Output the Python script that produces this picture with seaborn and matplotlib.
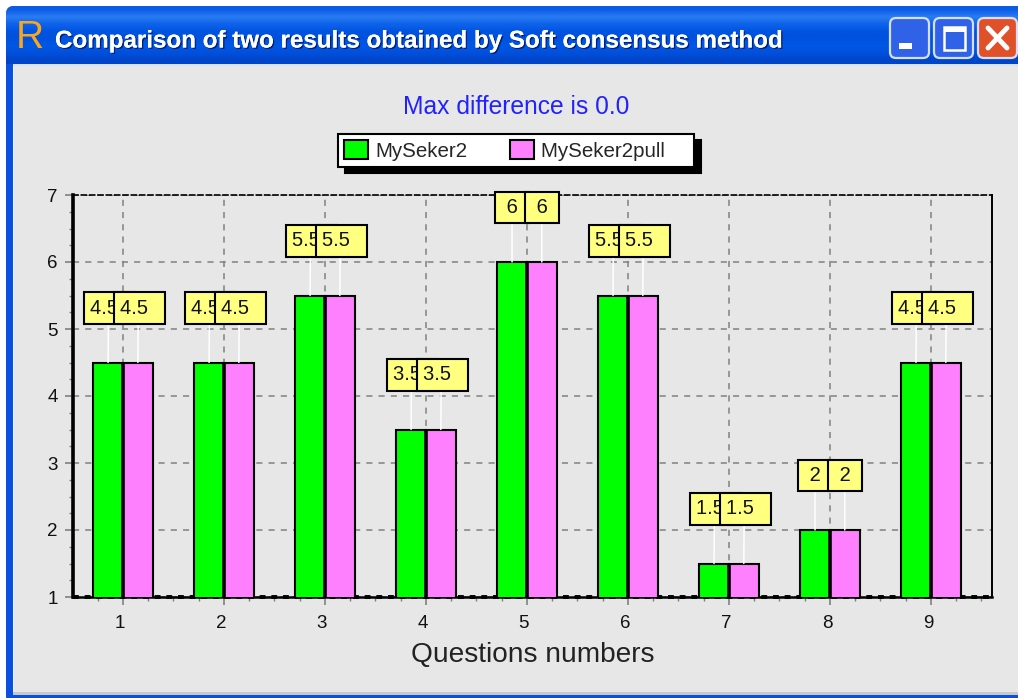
import numpy as np
import pandas as pd
import matplotlib.pyplot as plt
import matplotlib.patches as mpatches
import matplotlib.patheffects as pe
from matplotlib.colors import to_rgb
from matplotlib.ticker import MultipleLocator
from matplotlib.transforms import ScaledTranslation
import seaborn as sns

#%%
questions = ['1', '2', '3', '4', '5', '6', '7', '8', '9']
seker2 = [4.5, 4.5, 5.5, 3.5, 6, 5.5, 1.5, 2, 4.5]
seker2pull = [4.5, 4.5, 5.5, 3.5, 6, 5.5, 1.5, 2, 4.5]
series_names = ['MySeker2', 'MySeker2pull']
series_colors = ['#00FF00', '#FF80FF']

window_title = 'Comparison of two results obtained by Soft consensus method'
chart_title = 'Max difference is 0.0'
x_label = 'Questions numbers'

W, H = 1018, 698
BODY = '#E7E7E7'
PX = 0.72  # points per pixel at dpi 100

df = pd.DataFrame({
    'question': questions * 2,
    'value': seker2 + seker2pull,
    'series': [series_names[0]] * 9 + [series_names[1]] * 9,
})

#%%
sns.set_theme(style='white')
plt.rcParams['font.family'] = ['Liberation Sans', 'DejaVu Sans']

fig = plt.figure(figsize=(W / 100, H / 100), dpi=100, facecolor='white')

# window frame, in pixel coordinates
win = fig.add_axes([0, 0, 1, 1], zorder=0)
win.axis('off')

frame = mpatches.FancyBboxPatch((6, 6), W, H, boxstyle='round,pad=0,rounding_size=8',
                                fc='#0A50E0', ec='none')
win.add_patch(frame)
bar_colors = ['#0A5CE6', '#2A7CF2', '#0E62EA', '#0054E0', '#0052DE', '#0058E6', '#0050DC', '#0044C8']
bar_img = np.array([[to_rgb(c)] for c in bar_colors])
win.imshow(bar_img, extent=(6, W, 64, 6), aspect='auto', interpolation='bilinear',
           clip_path=frame, zorder=1)
win.set_xlim(0, W)
win.set_ylim(H, 0)
win.add_patch(mpatches.Rectangle((13, 64), W, 2, fc='#D8E0F0', ec='none', zorder=2))
win.add_patch(mpatches.Rectangle((13, 66), W, 627, fc=BODY, ec='none', zorder=2))
win.add_patch(mpatches.Rectangle((13, 66), 1.5, 627, fc='#F4F4F4', ec='none', zorder=2))
win.add_patch(mpatches.Rectangle((13, 692), W, 3, fc='#C8C8C8', ec='none', zorder=2))

win.text(30, 38, 'R', color='#F5A623', fontsize=28, ha='center', va='center', zorder=3)
win.text(55, 41, window_title, color='white', fontsize=17.4, fontweight='bold',
         ha='left', va='center', zorder=3,
         path_effects=[pe.withSimplePatchShadow(offset=(1, -1), shadow_rgbFace='#00207A', alpha=1),
                       pe.Normal()])

for left, color in [(890, '#2F62E6'), (934, '#2F62E6'), (978, '#E0512A')]:
    win.add_patch(mpatches.FancyBboxPatch((left, 18), 39, 40,
                                          boxstyle='round,pad=0,rounding_size=6',
                                          fc=color, ec='#D5E0F8', lw=1.6, zorder=3))
win.add_patch(mpatches.Rectangle((899, 43), 13, 6, fc='white', ec='none', zorder=4))
win.add_patch(mpatches.Rectangle((944, 27), 21, 23, fc='none', ec='white', lw=1.8, zorder=4))
win.add_patch(mpatches.Rectangle((944, 27), 21, 5, fc='white', ec='none', zorder=4))
win.plot([988, 1007], [28, 48], color='white', lw=3.5, zorder=4)
win.plot([988, 1007], [48, 28], color='white', lw=3.5, zorder=4)

#%%
# the chart itself
ax = fig.add_axes([73 / W, 1 - 597 / H, 919 / W, 402 / H], zorder=1)
ax.patch.set_alpha(0)
sns.barplot(data=df, x='question', y='value', hue='series', order=questions,
            hue_order=series_names, palette=series_colors, saturation=1,
            width=0.59, gap=0, edgecolor='black', linewidth=1.5, ax=ax, zorder=3)

ax.set_xlim(-0.495, 8.605)
ax.set_ylim(1, 7)
ax.set_yticks([1, 2, 3, 4, 5, 6, 7])
ax.xaxis.set_minor_locator(MultipleLocator(0.25))
ax.yaxis.set_minor_locator(MultipleLocator(0.25))
ax.grid(True, which='major', color='#808080', linestyle=(0, (4, 4)), linewidth=1.1)
ax.set_axisbelow(True)
ax.tick_params(axis='both', which='major', length=6, width=1.2, color='#808080',
               labelsize=13.5, labelcolor='#111111', bottom=True, left=True, pad=5)
ax.tick_params(axis='both', which='minor', length=3, width=1, color='#808080',
               bottom=True, left=True)
ax.tick_params(axis='x', which='major', pad=7)
for lab in ax.get_xticklabels():
    lab.set_transform(lab.get_transform() + ScaledTranslation(-3 / 100, 0, fig.dpi_scale_trans))

ax.spines['left'].set_linewidth(2.6)
ax.spines['bottom'].set_linewidth(1.8)
ax.spines['right'].set_linewidth(1.4)
ax.spines['top'].set_linewidth(1.2)
ax.spines['top'].set_linestyle((0, (3, 2)))
for side in ax.spines:
    ax.spines[side].set_color('black')
ax.axhline(1, color='black', lw=2.8, linestyle=(0, (1.5, 1.5)), clip_on=False, zorder=2.5)

ax.set_xlabel(x_label, fontsize=20.2, color='#222222', labelpad=7)
ax.set_ylabel('')
ax.set_title(chart_title, fontsize=17.7, color='#2222FF', x=0.4825, pad=58)

# heavier divider where the two bars of a pair touch
for rect in ax.containers[1]:
    ax.plot([rect.get_x()] * 2, [1, rect.get_height()], color='black', lw=2.6,
            solid_capstyle='butt', zorder=4)

# value flags, the later box sits on top of the earlier one
for container in ax.containers:
    for rect in container:
        v = rect.get_height()
        whole = float(v).is_integer()
        # whole numbers sit centred in their box, the others lean to the left
        ax.annotate(f' {v:g} ' if whole else f'{v:g}  ',
                    xy=(rect.get_x() + rect.get_width() / 2, v),
                    xytext=((0 if whole else 1.5) * PX, 45 * PX), textcoords='offset points',
                    ha='center', va='bottom', fontsize=14.5, color='#111111',
                    bbox=dict(boxstyle='square,pad=0.3', fc='#FFFF80', ec='black', lw=1.5),
                    arrowprops=dict(arrowstyle='-', color='white', lw=1.1, shrinkA=0, shrinkB=0,
                                    relpos=(0.5 if whole else 0.47, 0)),
                    zorder=5, annotation_clip=False)

sns.move_legend(ax, 'center', bbox_to_anchor=(516 / W, 1 - 150.5 / H),
                bbox_transform=fig.transFigure, ncol=2, title=None, frameon=True,
                labels=[series_names[0], series_names[1] + '    '],
                fancybox=False, framealpha=1, facecolor='white', edgecolor='black',
                fontsize=14.8, columnspacing=2.1, handlelength=1.15, handleheight=1.0,
                handletextpad=0.35, borderpad=0.3,
                shadow={'color': 'black', 'alpha': 1, 'ox': 5, 'oy': -4.5})
ax.get_legend().get_frame().set_linewidth(1.5)
ax.get_legend().set_zorder(7)

fig.savefig('out.png', dpi=100, facecolor='white')
